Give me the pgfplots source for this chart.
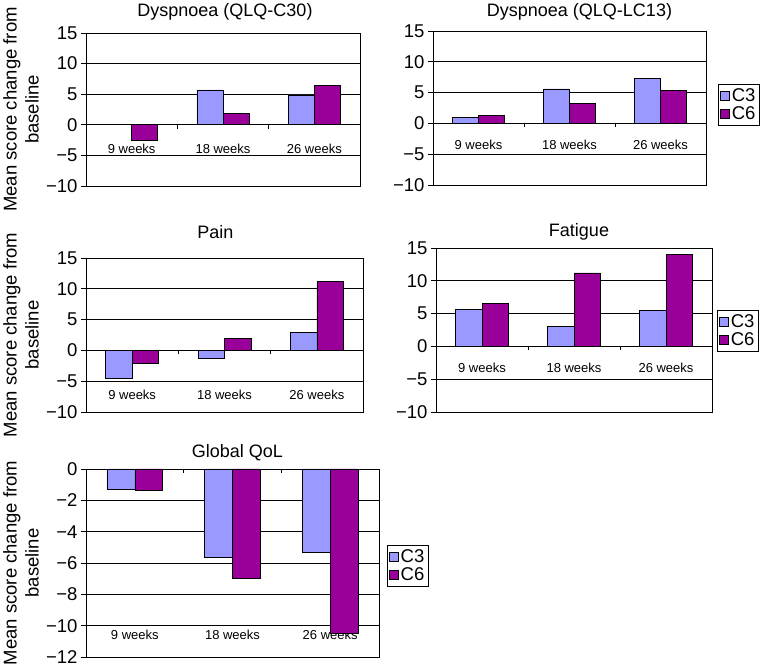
\documentclass[border=0pt]{standalone}
\usepackage{pgfplots}
\pgfplotsset{compat=1.18}
\usepackage{fontspec}
\setmainfont{Liberation Sans}

\definecolor{cthree}{HTML}{9999FF}
\definecolor{csix}{HTML}{990099}
\newcommand{\bigf}{\fontsize{18.5}{22}\selectfont}

\pgfplotsset{
  qol/.style={
    scale only axis,
    anchor=south west,
    ybar=0pt,
    bar width=0.286,
    xmin=-0.5, xmax=2.5,
    xtick={0,1,2},
    xticklabels={9 weeks,18 weeks,26 weeks},
    xtick style={draw=none},
    ytick pos=left,
    tick align=outside,
    major tick length=5pt,
    ymajorgrids,
    grid style={black, line width=0.6pt},
    axis line style={black, line width=0.6pt},
    ytick style={black, line width=0.6pt},
    tick label style={font=\bigf},
    x tick label style={font=\fontsize{13}{15}\selectfont, anchor=center},
    every axis title/.style={at={(0.5,1)}, anchor=center, font=\fontsize{18}{21}\selectfont},
    every axis y label/.style={rotate=90, anchor=center, align=center, font=\bigf},
    legend style={font=\bigf, anchor=north west,
      draw=black, line width=0.6pt, inner sep=2pt, row sep=0pt,
      legend cell align=left},
    legend image code/.code={
      \draw[#1, draw=black, line width=0.5pt] (0pt,-4.5pt) rectangle (9pt,4.5pt);},
    every axis plot/.append style={draw=black, line width=0.6pt},
  },
  pm/.style={ymin=-10, ymax=15, ytick={-10,-5,0,5,10,15},
    yticklabels={−10,−5,0,5,10,15}},
}

\begin{document}
\begin{tikzpicture}
\useasboundingbox (0,0) rectangle (769pt,667pt);

% Dyspnoea (QLQ-C30)
\begin{axis}[qol, pm, at={(86pt,481pt)}, width=274pt, height=153pt,
  x tick label style={yshift=42pt},
  title={Dyspnoea (QLQ-C30)}, title style={yshift=21pt, xshift=2pt},
  ylabel={Mean score change from\\baseline},
  ylabel style={at={(axis description cs:-0.237,0.5)}}]
\addplot[fill=cthree] coordinates {(0,0) (1,5.7) (2,4.9)};
\addplot[fill=csix] coordinates {(0,-2.5) (1,1.9) (2,6.4)};
\draw (axis cs:0.5,0) -- ([yshift=-4pt]axis cs:0.5,0);
\draw (axis cs:1.5,0) -- ([yshift=-4pt]axis cs:1.5,0);
\end{axis}

% Dyspnoea (QLQ-LC13)
\begin{axis}[qol, pm, at={(433pt,482pt)}, width=273pt, height=154pt,
  x tick label style={yshift=45pt},
  title={Dyspnoea (QLQ-LC13)}, title style={yshift=19pt, xshift=10pt},
  legend style={at={(axis description cs:1.044,0.656)}}]
\addplot[fill=cthree] coordinates {(0,1.0) (1,5.6) (2,7.3)};
\addplot[fill=csix] coordinates {(0,1.3) (1,3.2) (2,5.4)};
\legend{C3,C6}
\draw (axis cs:0.5,0) -- ([yshift=-4pt]axis cs:0.5,0);
\draw (axis cs:1.5,0) -- ([yshift=-4pt]axis cs:1.5,0);
\end{axis}

% Pain
\begin{axis}[qol, pm, at={(86pt,255pt)}, width=277pt, height=154pt,
  x tick label style={yshift=22pt},
  title={Pain}, title style={yshift=26pt, xshift=-9pt},
  ylabel={Mean score change from\\baseline},
  ylabel style={at={(axis description cs:-0.235,0.5)}}]
\addplot[fill=cthree] coordinates {(0,-4.5) (1,-1.3) (2,2.9)};
\addplot[fill=csix] coordinates {(0,-2.1) (1,1.95) (2,11.15)};
\draw (axis cs:0.5,0) -- ([yshift=-4pt]axis cs:0.5,0);
\draw (axis cs:1.5,0) -- ([yshift=-4pt]axis cs:1.5,0);
\end{axis}

% Fatigue
\begin{axis}[qol, pm, at={(436pt,255pt)}, width=276pt, height=164pt,
  x tick label style={yshift=49pt},
  title={Fatigue}, title style={yshift=16pt, xshift=5pt},
  legend style={at={(axis description cs:1.018,0.622)}}]
\addplot[fill=cthree] coordinates {(0,5.6) (1,3.1) (2,5.5)};
\addplot[fill=csix] coordinates {(0,6.5) (1,11.2) (2,14.0)};
\legend{C3,C6}
\draw (axis cs:0.5,0) -- ([yshift=-4pt]axis cs:0.5,0);
\draw (axis cs:1.5,0) -- ([yshift=-4pt]axis cs:1.5,0);
\end{axis}

% Global QoL
\begin{axis}[qol, at={(86pt,10pt)}, width=293pt, height=188pt,
  ymin=-12, ymax=0, ytick={-12,-10,-8,-6,-4,-2,0},
  yticklabels={−12,−10,−8,−6,−4,−2,0},
  x tick label style={yshift=27pt},
  title={Global QoL}, title style={yshift=16pt, xshift=5pt},
  ylabel={Mean score change from\\baseline},
  ylabel style={at={(axis description cs:-0.222,0.5)}},
  legend style={at={(axis description cs:1.027,0.596)}}]
\addplot[fill=cthree] coordinates {(0,-1.28) (1,-5.65) (2,-5.33)};
\addplot[fill=csix] coordinates {(0,-1.34) (1,-6.95) (2,-10.5)};
\legend{C3,C6}
\draw (axis cs:0.5,0) -- ([yshift=-4pt]axis cs:0.5,0);
\draw (axis cs:1.5,0) -- ([yshift=-4pt]axis cs:1.5,0);
\end{axis}
\end{tikzpicture}
\end{document}
